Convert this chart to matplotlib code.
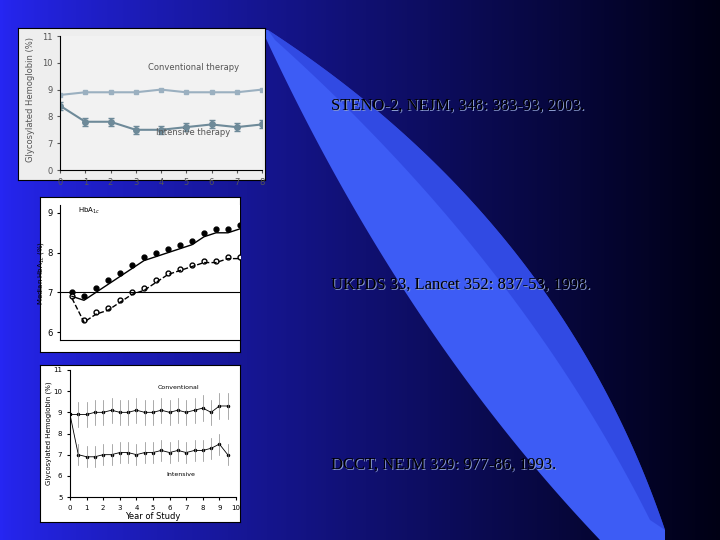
import numpy as np
import matplotlib
matplotlib.use("Agg")
import matplotlib.pyplot as plt
from matplotlib.patches import Polygon

# STENO-2
steno_x = [0, 1, 2, 3, 4, 5, 6, 7, 8]
steno_conv = [8.8, 8.9, 8.9, 8.9, 9.0, 8.9, 8.9, 8.9, 9.0]
steno_int = [8.4, 7.8, 7.8, 7.5, 7.5, 7.6, 7.7, 7.6, 7.7]
# UKPDS
ukpds_x = [0, 1, 2, 3, 4, 5, 6, 7, 8, 9, 10, 11, 12, 13, 14, 15]
ukpds_conv = [7.0, 6.9, 7.1, 7.3, 7.5, 7.7, 7.9, 8.0, 8.1, 8.2, 8.3, 8.5, 8.6, 8.6, 8.7, 8.6]
ukpds_int = [6.9, 6.3, 6.5, 6.6, 6.8, 7.0, 7.1, 7.3, 7.5, 7.6, 7.7, 7.8, 7.8, 7.9, 7.9, 7.9]
# DCCT
dcct_x = [0, 0.5, 1, 1.5, 2, 2.5, 3, 3.5, 4, 4.5, 5, 5.5, 6, 6.5, 7, 7.5, 8, 8.5, 9, 9.5]
dcct_conv = [8.9, 8.9, 8.9, 9.0, 9.0, 9.1, 9.0, 9.0, 9.1, 9.0, 9.0, 9.1, 9.0, 9.1, 9.0, 9.1, 9.2, 9.0, 9.3, 9.3]
dcct_int = [8.9, 7.0, 6.9, 6.9, 7.0, 7.0, 7.1, 7.1, 7.0, 7.1, 7.1, 7.2, 7.1, 7.2, 7.1, 7.2, 7.2, 7.3, 7.5, 7.0]

refs = ["STENO-2, NEJM, 348: 383-93, 2003.",
        "UKPDS 33, Lancet 352: 837-53, 1998.",
        "DCCT, NEJM 329: 977-86, 1993."]

W, H = 720, 540
fig = plt.figure(figsize=(7.2, 5.4), dpi=100)
bg = fig.add_axes([0, 0, 1, 1])
grad = np.linspace(0, 1, 256)
c0 = np.array([0.15, 0.15, 0.95]); c1 = np.array([0.0, 0.0, 0.08])
img = c0[None, :] * (1 - grad[:, None]**0.8) + c1[None, :] * grad[:, None]**0.8
img = np.tile(img[None, :, :], (10, 1, 1))
bg.imshow(img, extent=[0, W, 0, H], aspect="auto")

def bez(p0, p1, p2, n=80):
    t = np.linspace(0, 1, n)[:, None]
    p0, p1, p2 = map(np.array, (p0, p1, p2))
    pts = (1 - t)**2 * p0 + 2 * (1 - t) * t * p1 + t**2 * p2
    pts[:, 1] = H - pts[:, 1]
    return pts

left = bez((262, 30), (400, 330), (600, 540))
right = bez((268, 30), (560, 220), (665, 530))
bg.add_patch(Polygon(np.r_[left, [[W - 55, 0]], right[::-1]], closed=True, color="#3d5cf5", lw=0))
inner = bez((275, 40), (520, 260), (650, 520))
bg.add_patch(Polygon(np.r_[inner, right[::-1]], closed=True, color="#2a3fd8", lw=0, alpha=0.6))
bg.set_xlim(0, W); bg.set_ylim(0, H); bg.axis("off")

def px(x0, y0, x1, y1):
    return [x0 / W, 1 - y1 / H, (x1 - x0) / W, (y1 - y0) / H]

# panel 1
p1 = fig.add_axes(px(18, 28, 265, 180)); p1.set_facecolor("#eeeeee")
p1.set_xticks([]); p1.set_yticks([])
a1 = fig.add_axes(px(60, 36, 262, 170)); a1.set_facecolor("#f2f2f2")
a1.plot(steno_x, steno_conv, color="#9bb0c0", marker="s", ms=3, lw=1.5)
a1.errorbar(steno_x, steno_int, yerr=0.15, color="#6e8a99", marker="o", ms=4, lw=1.5, capsize=2)
a1.set_xlim(0, 8); a1.set_ylim(6, 11)
a1.set_xticks(range(9)); a1.set_yticks([6, 7, 8, 9, 10, 11]); a1.set_yticklabels(["0", "7", "8", "9", "10", "11"])
a1.tick_params(labelsize=6, colors="#555555", length=2)
a1.text(3.5, 9.75, "Conventional therapy", fontsize=6, color="#555555")
a1.text(3.8, 7.3, "Intensive therapy", fontsize=6, color="#555555")
fig.text(26 / W, 1 - 100 / H, "Glycosylated Hemoglobin (%)", rotation=90, fontsize=6, color="#555555", va="center")
for s in ["top", "right"]: a1.spines[s].set_visible(False)

# panel 2
p2 = fig.add_axes(px(40, 197, 240, 352)); p2.set_facecolor("white")
a2 = fig.add_axes(px(60, 205, 240, 340))
a2.plot(ukpds_x, ukpds_conv, "ko", ms=3.5)
a2.plot(ukpds_x, ukpds_int, "o", mfc="white", mec="k", ms=3.5)
a2.plot(ukpds_x, np.array(ukpds_conv) - 0.1, "k-", lw=1)
a2.plot(ukpds_x, np.array(ukpds_int) - 0.05, "k--", lw=1)
a2.axhline(7, color="k", lw=0.8)
a2.set_xlim(-1, 14); a2.set_ylim(5.8, 9.2)
a2.set_yticks([6, 7, 8, 9]); a2.set_xticks([])
a2.tick_params(labelsize=6, length=2)
a2.text(0.5, 9.0, "HbA$_{1c}$", fontsize=5)
a2.set_ylabel("Median HbA$_{1c}$ (%)", fontsize=5, labelpad=1)
for s in ["top", "right"]: a2.spines[s].set_visible(False)
p2.set_xticks([]); p2.set_yticks([])

# panel 3
p3 = fig.add_axes(px(40, 365, 240, 522)); p3.set_facecolor("white")
a3 = fig.add_axes(px(70, 370, 236, 497))
a3.plot(dcct_x, dcct_conv, "k.-", ms=3, lw=0.6)
a3.plot(dcct_x, dcct_int, "k.-", ms=3, lw=0.6)
for xi, c, i in zip(dcct_x, dcct_conv, dcct_int):
    a3.plot([xi, xi], [c - 0.6, c + 0.6], color="#888888", lw=0.5)
    a3.plot([xi, xi], [i - 0.5, i + 0.5], color="#888888", lw=0.5)
a3.set_xlim(0, 10); a3.set_ylim(5, 11)
a3.set_xticks(range(11)); a3.set_yticks(range(5, 12))
a3.tick_params(labelsize=5, length=2)
a3.set_xlabel("Year of Study", fontsize=6, labelpad=1)
a3.set_ylabel("Glycosylated Hemoglobin (%)", fontsize=5, labelpad=1)
a3.text(5.3, 10.1, "Conventional", fontsize=4.5)
a3.text(5.8, 6.0, "Intensive", fontsize=4.5)
for s in ["top", "right"]: a3.spines[s].set_visible(False)
p3.set_xticks([]); p3.set_yticks([])

for y, r in zip([106, 285, 465], refs):
    fig.text(332 / W, 1 - (y + 1) / H, r, fontsize=12, family="Liberation Serif", color="#8899cc", va="center")
    fig.text(331 / W, 1 - y / H, r, fontsize=12, family="Liberation Serif", color="black", va="center")

fig.savefig("out.png", dpi=100)
